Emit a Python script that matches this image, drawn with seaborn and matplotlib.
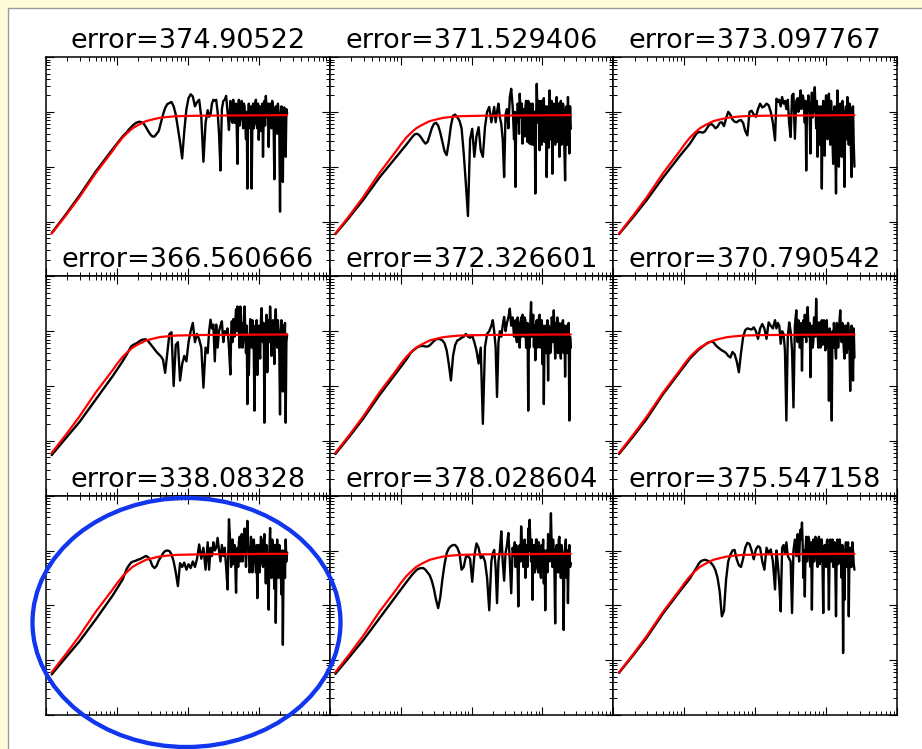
import numpy as np
import matplotlib
matplotlib.use("Agg")
import matplotlib.pyplot as plt
from matplotlib.patches import Ellipse, Rectangle
import seaborn as sns

# ---------------------------------------------------------------------------
# Data (log10 units): shared frequency grid for the measured spectra
# ---------------------------------------------------------------------------
LOG_FREQ = [
    0.08, 0.28, 0.47, 0.70, 0.94, 1.08,
    1.14, 1.17, 1.20, 1.23, 1.26, 1.29, 1.32, 1.35, 1.38, 1.41,
    1.44, 1.47, 1.50, 1.53, 1.56, 1.59, 1.62, 1.65, 1.68, 1.71,
    1.74, 1.77, 1.80, 1.83, 1.86, 1.89, 1.92, 1.95, 1.98, 2.01,
    2.04, 2.07, 2.10, 2.13, 2.16, 2.19, 2.22, 2.25, 2.28,
    2.30, 2.32, 2.34, 2.36, 2.38, 2.40, 2.42, 2.44, 2.46, 2.48,
    2.50, 2.52, 2.54, 2.56, 2.58,
    2.60, 2.61, 2.62, 2.63, 2.64, 2.65, 2.66, 2.67, 2.68, 2.69,
    2.70, 2.71, 2.72, 2.73, 2.74, 2.75, 2.76, 2.77, 2.78, 2.79,
    2.80, 2.81, 2.82, 2.83, 2.84, 2.85, 2.86, 2.87, 2.88, 2.89,
    2.90, 2.91, 2.92, 2.93, 2.94, 2.95, 2.96, 2.97, 2.98, 2.99,
    3.00, 3.01, 3.02, 3.03, 3.04, 3.05, 3.06, 3.07, 3.08, 3.09,
    3.10, 3.11, 3.12, 3.13, 3.14, 3.15, 3.16, 3.17, 3.18, 3.19,
    3.20, 3.21, 3.22, 3.23, 3.24, 3.25, 3.26, 3.27, 3.28, 3.29,
    3.30, 3.31, 3.32, 3.33, 3.34, 3.35, 3.36, 3.37, 3.38, 3.39,
    3.40,
]

# fitted model curve (log10 frequency, log10 power)
MODEL_LOG_FREQ = [0.08, 0.28, 0.47, 0.70, 0.94, 1.00, 1.08, 1.15, 1.22, 1.30,
                  1.41, 1.50, 1.60, 1.70, 1.83, 2.00, 2.20, 2.80, 3.40]
MODEL_LOG_POWER = [-3.22, -2.89, -2.56, -2.12, -1.71, -1.60, -1.47, -1.38, -1.30, -1.24,
                   -1.17, -1.14, -1.11, -1.095, -1.08, -1.075, -1.07, -1.065, -1.06]

# measured spectra, one per panel (log10 power on LOG_FREQ)
spec_1 = [
    -3.21, -2.87, -2.53, -2.09, -1.68, -1.45,
    -1.37, -1.32, -1.28, -1.24, -1.21, -1.19, -1.18, -1.19, -1.22, -1.28,
    -1.35, -1.41, -1.45, -1.45, -1.40, -1.35, -1.20, -1.05, -0.93, -0.86,
    -0.84, -0.82, -0.90, -1.05, -1.30, -1.55, -1.85, -1.35, -0.95, -0.75,
    -0.68, -0.72, -0.90, -0.82, -0.78, -1.10, -1.91, -1.20, -0.97,
    -1.09, -1.05, -0.85, -0.78, -0.80, -0.78, -1.00, -1.40, -2.07, -0.95,
    -0.80, -0.78, -0.71, -1.00, -1.33,
    -0.80, -1.15, -0.95, -1.20, -0.78, -1.05, -1.20, -0.90, -0.85, -1.30,
    -1.95, -0.95, -0.78, -1.25, -1.10, -0.85, -0.80, -1.10, -1.30, -0.85,
    -0.90, -1.20, -1.50, -1.00, -2.40, -1.10, -0.85, -1.15, -1.30, -0.90,
    -2.40, -1.20, -0.85, -1.30, -1.20, -0.85, -0.78, -1.20, -1.30, -0.85,
    -1.51, -1.00, -0.90, -1.35, -1.20, -0.85, -1.82, -1.00, -0.80, -1.25,
    -0.71, -0.95, -1.10, -0.85, -1.64, -1.00, -0.85, -1.25, -1.30, -0.80,
    -0.95, -1.30, -2.23, -1.00, -0.90, -1.20, -1.40, -0.85, -1.00, -1.35,
    -2.82, -1.10, -0.90, -1.30, -2.28, -1.00, -0.92, -1.25, -1.82, -0.95,
    -1.03,
]
spec_2 = [
    -3.23, -2.92, -2.61, -2.20, -1.82, -1.60,
    -1.50, -1.45, -1.41, -1.40, -1.42, -1.47, -1.53, -1.58, -1.55, -1.43,
    -1.30, -1.22, -1.20, -1.25, -1.38, -1.55, -1.72, -1.79, -1.55, -1.25,
    -1.07, -1.05, -1.10, -1.16, -1.30, -1.75, -2.30, -2.90, -1.50, -1.31,
    -1.82, -1.45, -1.28, -1.70, -1.82, -1.28, -1.00, -0.91, -1.19,
    -1.05, -0.91, -1.19, -1.00, -0.85, -1.10, -1.22, -1.50, -2.19, -1.05,
    -0.95, -1.30, -0.73, -0.58, -0.90,
    -1.50, -1.00, -2.37, -1.10, -1.20, -0.85, -0.90, -1.40, -0.67, -0.95,
    -1.10, -0.85, -1.58, -1.00, -0.95, -1.45, -0.91, -0.80, -1.25, -1.55,
    -0.80, -1.10, -1.58, -0.85, -1.20, -1.60, -0.85, -1.10, -1.60, -1.00,
    -2.49, -1.20, -0.49, -1.00, -1.20, -0.80, -1.70, -1.10, -0.80, -1.60,
    -1.40, -0.85, -0.75, -1.55, -1.50, -0.90, -2.19, -1.20, -0.90, -1.65,
    -0.61, -1.00, -1.50, -0.80, -2.13, -1.10, -0.85, -1.35, -1.60, -0.90,
    -0.73, -1.55, -1.30, -0.85, -1.82, -1.00, -0.80, -1.60, -1.50, -0.85,
    -0.95, -1.70, -2.25, -1.00, -0.90, -1.60, -0.73, -1.20, -1.76, -0.90,
    -1.31,
]
spec_3 = [
    -3.23, -2.92, -2.61, -2.20, -1.80, -1.58,
    -1.46, -1.40, -1.37, -1.37, -1.38, -1.36, -1.30, -1.24, -1.22, -1.25,
    -1.30, -1.27, -1.20, -1.19, -1.26, -1.12, -1.00, -1.05, -1.14, -1.18,
    -1.19, -1.16, -1.15, -1.20, -1.35, -1.43, -1.00, -0.98, -1.05, -1.09,
    -0.95, -0.85, -0.92, -0.90, -0.85, -0.88, -1.00, -1.20, -1.52,
    -0.76, -0.82, -0.78, -0.90, -0.73, -0.85, -0.80, -0.95, -0.78, -1.22,
    -1.46, -0.70, -0.67, -1.49, -0.80,
    -0.75, -1.00, -0.90, -0.75, -0.61, -0.95, -0.85, -0.70, -0.75, -0.95,
    -1.20, -0.80, -2.07, -1.00, -0.90, -0.70, -0.85, -1.20, -1.76, -0.90,
    -0.65, -1.10, -0.70, -1.00, -0.55, -0.90, -1.30, -0.80, -1.82, -0.90,
    -1.20, -1.60, -0.90, -1.30, -2.40, -1.00, -0.80, -1.40, -1.80, -0.90,
    -0.70, -1.20, -1.50, -0.85, -0.67, -1.30, -1.60, -0.80, -1.10, -1.50,
    -1.95, -1.00, -0.90, -1.60, -2.49, -1.10, -0.61, -1.30, -2.00, -1.00,
    -0.85, -1.50, -1.82, -0.80, -1.00, -1.60, -2.37, -1.10, -0.90, -1.50,
    -0.73, -1.20, -1.60, -0.85, -0.90, -1.70, -2.19, -1.00, -0.90, -1.60,
    -2.00,
]
spec_4 = [
    -3.26, -2.95, -2.66, -2.25, -1.82, -1.55,
    -1.42, -1.35, -1.28, -1.25, -1.23, -1.21, -1.18, -1.16, -1.15, -1.15,
    -1.18, -1.23, -1.28, -1.33, -1.38, -1.42, -1.46, -1.52, -1.76, -1.40,
    -1.05, -1.02, -2.00, -1.25, -1.20, -1.90, -1.60, -1.45, -1.55, -1.20,
    -1.00, -0.85, -1.20, -1.05, -1.15, -1.30, -2.03, -1.30, -1.40,
    -1.00, -0.79, -0.95, -0.88, -1.55, -0.88, -1.30, -1.00, -0.90, -0.82,
    -1.20, -1.00, -1.05, -0.95, -1.30,
    -1.79, -1.10, -0.82, -1.20, -0.78, -0.95, -1.10, -0.80, -0.60, -1.00,
    -0.55, -0.85, -1.00, -1.30, -0.55, -0.90, -0.85, -1.30, -1.20, -0.75,
    -0.55, -1.00, -1.40, -0.90, -2.33, -1.10, -1.80, -1.20, -0.78, -1.10,
    -1.30, -0.80, -1.00, -1.40, -2.45, -0.90, -1.20, -0.80, -1.80, -1.10,
    -0.90, -1.30, -1.50, -0.80, -0.58, -1.00, -1.20, -0.85, -2.67, -1.20,
    -1.00, -0.70, -1.75, -1.10, -0.80, -1.20, -0.55, -0.90, -1.45, -1.00,
    -0.80, -1.20, -1.60, -0.90, -0.60, -1.10, -1.30, -0.80, -1.00, -1.40,
    -2.52, -1.10, -0.80, -1.30, -2.10, -0.90, -1.30, -0.85, -2.67, -1.20,
    -1.06,
]
spec_5 = [
    -3.24, -2.92, -2.60, -2.17, -1.76, -1.52,
    -1.40, -1.36, -1.33, -1.30, -1.28, -1.27, -1.27, -1.28, -1.28, -1.26,
    -1.22, -1.18, -1.15, -1.14, -1.15, -1.17, -1.22, -1.35, -1.60, -1.90,
    -1.45, -1.25, -1.17, -1.15, -1.12, -1.10, -1.05, -1.10, -1.12, -1.08,
    -1.20, -1.35, -1.59, -1.30, -2.69, -1.29, -1.05, -1.00, -0.90,
    -0.80, -1.00, -1.29, -2.20, -1.20, -1.00, -1.10, -0.90, -0.74, -1.00,
    -0.85, -0.75, -0.59, -0.90, -0.75,
    -1.10, -0.85, -0.80, -1.10, -1.20, -0.75, -0.85, -1.15, -1.30, -0.90,
    -0.75, -1.10, -0.70, -0.95, -1.10, -0.75, -0.80, -1.30, -1.20, -0.85,
    -2.45, -1.00, -1.30, -0.80, -0.47, -1.10, -0.90, -0.70, -1.29, -0.90,
    -1.53, -1.00, -0.80, -1.30, -1.20, -0.75, -0.70, -1.30, -1.10, -0.80,
    -1.60, -0.90, -2.33, -1.10, -0.90, -1.40, -1.20, -0.80, -1.90, -0.90,
    -1.00, -1.40, -1.30, -0.75, -0.80, -1.20, -0.62, -1.00, -1.50, -0.85,
    -1.00, -0.75, -1.40, -0.85, -0.90, -1.30, -1.50, -0.85, -1.10, -0.80,
    -1.40, -0.90, -1.83, -1.00, -0.90, -1.40, -1.00, -0.85, -2.63, -1.10,
    -1.30,
]
spec_6 = [
    -3.24, -2.92, -2.60, -2.15, -1.74, -1.50,
    -1.42, -1.38, -1.34, -1.31, -1.28, -1.25, -1.22, -1.20, -1.19, -1.20,
    -1.25, -1.29, -1.32, -1.35, -1.37, -1.40, -1.45, -1.48, -1.38, -1.42,
    -1.55, -1.75, -1.40, -1.11, -0.98, -0.95, -0.96, -0.97, -0.93, -1.00,
    -1.14, -0.95, -0.87, -0.95, -1.14, -0.84, -0.90, -0.95, -0.80,
    -0.95, -0.85, -0.90, -1.23, -1.00, -1.05, -1.35, -2.63, -1.10, -0.84,
    -1.00, -1.35, -2.39, -0.90, -0.62,
    -1.20, -0.80, -0.90, -1.30, -1.10, -0.85, -1.72, -1.00, -0.80, -1.10,
    -0.70, -0.95, -1.20, -0.80, -0.56, -0.90, -1.10, -0.85, -1.84, -1.00,
    -0.90, -1.30, -1.20, -0.75, -0.80, -1.10, -0.41, -0.90, -1.00, -1.30,
    -0.84, -1.00, -1.30, -0.85, -0.80, -1.25, -1.20, -0.80, -1.00, -1.35,
    -0.90, -0.80, -1.30, -1.00, -2.27, -0.95, -1.10, -1.40, -2.63, -1.00,
    -1.30, -0.85, -1.00, -1.30, -1.50, -0.85, -0.90, -1.30, -1.10, -0.80,
    -0.62, -1.00, -1.20, -0.85, -1.00, -1.35, -1.50, -0.90, -0.90, -1.40,
    -1.30, -0.85, -1.00, -1.30, -2.09, -1.00, -0.90, -1.30, -1.90, -0.95,
    -1.48,
]
spec_7 = [
    -3.26, -2.95, -2.66, -2.26, -1.82, -1.53,
    -1.33, -1.27, -1.22, -1.20, -1.19, -1.17, -1.16, -1.14, -1.12, -1.10,
    -1.12, -1.18, -1.28, -1.32, -1.28, -1.18, -1.12, -1.05, -1.01, -1.00,
    -1.01, -1.07, -1.20, -1.40, -1.65, -1.23, -1.30, -1.22, -1.35, -1.25,
    -1.32, -1.20, -1.30, -1.15, -0.89, -1.15, -0.95, -1.35, -0.85,
    -1.35, -0.95, -1.10, -0.85, -1.00, -0.95, -0.77, -1.00, -1.20, -0.90,
    -1.10, -0.95, -1.30, -1.71, -0.43,
    -0.90, -1.30, -1.10, -0.80, -1.25, -1.00, -0.90, -1.30, -1.77, -1.10,
    -0.95, -1.30, -0.85, -0.75, -1.20, -0.90, -0.70, -1.20, -1.10, -0.80,
    -0.60, -0.90, -1.30, -0.80, -0.46, -0.90, -1.00, -1.40, -1.30, -0.75,
    -0.90, -1.40, -1.20, -0.80, -1.00, -1.20, -1.40, -0.90, -1.87, -1.10,
    -0.90, -1.40, -1.20, -0.75, -0.80, -1.20, -1.30, -0.85, -0.70, -1.10,
    -1.60, -0.90, -1.20, -1.50, -2.08, -1.00, -0.59, -1.20, -1.50, -0.80,
    -1.00, -1.30, -1.70, -0.90, -2.32, -1.10, -0.80, -1.20, -1.50, -0.90,
    -1.00, -1.40, -1.80, -1.00, -2.72, -1.30, -1.00, -1.50, -0.80, -1.20,
    -1.04,
]
spec_8 = [
    -3.25, -2.94, -2.64, -2.24, -1.82, -1.58,
    -1.48, -1.43, -1.39, -1.35, -1.33, -1.32, -1.32, -1.35, -1.40, -1.45,
    -1.55, -1.70, -1.90, -2.05, -1.85, -1.52, -1.25, -1.05, -0.96, -0.92,
    -0.90, -0.90, -0.95, -1.05, -1.35, -1.30, -1.12, -1.10, -1.15, -1.57,
    -1.10, -0.87, -0.95, -1.14, -1.10, -1.20, -1.50, -2.09, -1.20,
    -1.05, -0.99, -1.30, -1.96, -1.20, -1.00, -0.65, -1.20, -1.55, -1.05,
    -0.90, -0.68, -1.20, -1.78, -0.95,
    -1.10, -0.85, -1.30, -0.90, -1.00, -1.30, -2.02, -1.10, -0.90, -1.20,
    -0.56, -0.85, -0.90, -1.30, -1.10, -0.80, -1.50, -1.00, -0.90, -1.30,
    -0.60, -1.00, -0.44, -0.90, -1.20, -0.80, -1.90, -1.10, -0.90, -1.40,
    -1.30, -0.80, -0.80, -1.30, -1.40, -0.85, -1.00, -1.40, -1.50, -0.90,
    -1.20, -0.80, -1.60, -1.00, -2.09, -1.20, -1.00, -1.40, -0.70, -0.95,
    -1.20, -0.80, -0.32, -0.90, -1.30, -0.80, -1.00, -1.40, -2.33, -1.00,
    -0.90, -1.30, -1.40, -0.80, -0.75, -1.20, -1.50, -0.90, -1.00, -1.40,
    -2.45, -1.10, -1.00, -0.80, -1.50, -1.00, -1.96, -1.10, -0.90, -1.30,
    -1.23,
]
spec_9 = [
    -3.23, -2.91, -2.59, -2.15, -1.74, -1.51,
    -1.38, -1.32, -1.25, -1.20, -1.18, -1.17, -1.18, -1.20, -1.23, -1.28,
    -1.36, -1.50, -1.75, -2.20, -2.10, -1.53, -1.20, -1.08, -1.00, -0.99,
    -1.16, -1.27, -1.30, -1.15, -0.95, -0.86, -0.88, -1.00, -1.16, -0.98,
    -0.92, -0.95, -1.20, -1.35, -0.95, -1.05, -0.98, -1.20, -1.71,
    -1.00, -1.25, -1.60, -2.11, -0.95, -0.90, -1.05, -0.85, -1.10, -1.15,
    -1.20, -2.14, -1.00, -0.80, -1.10,
    -0.70, -1.00, -1.20, -0.80, -0.62, -0.80, -0.49, -0.90, -1.50, -1.00,
    -1.84, -1.00, -0.75, -1.20, -1.00, -0.75, -0.80, -1.20, -1.30, -0.85,
    -2.08, -1.00, -0.80, -1.20, -1.00, -0.75, -0.85, -1.20, -1.30, -0.80,
    -0.75, -1.25, -1.10, -0.80, -0.80, -1.30, -2.14, -1.00, -0.90, -1.25,
    -1.30, -0.85, -0.80, -1.20, -2.08, -1.00, -0.80, -1.20, -1.00, -0.80,
    -1.30, -1.00, -0.85, -1.30, -2.20, -1.00, -0.80, -1.25, -1.20, -0.80,
    -0.90, -1.20, -1.50, -0.90, -2.87, -1.20, -1.90, -1.00, -0.85, -1.30,
    -1.10, -0.85, -2.20, -1.00, -0.95, -1.30, -1.30, -0.85, -1.00, -1.25,
    -1.35,
]

ERRORS = [374.90522, 371.529406, 373.097767,
          366.560666, 372.326601, 370.790542,
          338.08328, 378.028604, 375.547158]

SPECTRA = [spec_1, spec_2, spec_3, spec_4, spec_5, spec_6, spec_7, spec_8, spec_9]

# ---------------------------------------------------------------------------
# Style
# ---------------------------------------------------------------------------
sns.set_style("ticks")
plt.rcParams["font.family"] = ["DejaVu Sans"]
plt.rcParams["text.color"] = "black"
plt.rcParams["axes.titlecolor"] = "black"
plt.rcParams["axes.edgecolor"] = "black"
plt.rcParams["axes.linewidth"] = 1.1

W, H = 922, 749
fig, axes = plt.subplots(3, 3, figsize=(W / 100, H / 100), dpi=100)
fig.patch.set_facecolor("#FFFAD8")
fig.subplots_adjust(left=46 / W, right=897 / W, bottom=1 - 715 / H, top=1 - 57 / H,
                    wspace=0, hspace=0)

# white page with a thin grey frame
fig.add_artist(Rectangle((7.5 / W, -0.02), 1.0, (H - 7.5) / H + 0.02,
                         transform=fig.transFigure, facecolor="white",
                         edgecolor="#9A9A9A", linewidth=1.0, zorder=-5))

freq = 10.0 ** np.asarray(LOG_FREQ)
model_f = 10.0 ** np.asarray(MODEL_LOG_FREQ)
model_p = 10.0 ** np.asarray(MODEL_LOG_POWER)

for ax, spec, err in zip(axes.flat, SPECTRA, ERRORS):
    ax.set_facecolor("white")
    ax.set_xscale("log")
    ax.set_yscale("log")
    sns.lineplot(x=freq, y=10.0 ** np.asarray(spec), ax=ax, color="black",
                 linewidth=1.7, sort=False, estimator=None)
    sns.lineplot(x=model_f, y=model_p, ax=ax, color="red",
                 linewidth=1.6, sort=False, estimator=None)
    ax.set_xlim(1, 1e4)
    ax.set_ylim(1e-4, 1)
    ax.set_title(f"error={err}", fontsize=19.5, pad=6.5, color="black")
    ax.tick_params(which="both", direction="in", top=True, right=True,
                   bottom=True, left=True, labelbottom=False, labelleft=False,
                   color="black")
    ax.tick_params(which="major", length=5.5, width=0.8)
    ax.tick_params(which="minor", length=3.0, width=0.7)
    for s in ax.spines.values():
        s.set_visible(True)
        s.set_color("black")

# highlight ring around the lower-left panel
fig.add_artist(Ellipse((186.5 / W, 1 - 622.5 / H), 308 / W, 249 / H,
                       transform=fig.transFigure, fill=False,
                       edgecolor="#1136EE", linewidth=3.1, zorder=20,
                       clip_on=False))

fig.savefig("out.png", dpi=100, facecolor=fig.get_facecolor())
